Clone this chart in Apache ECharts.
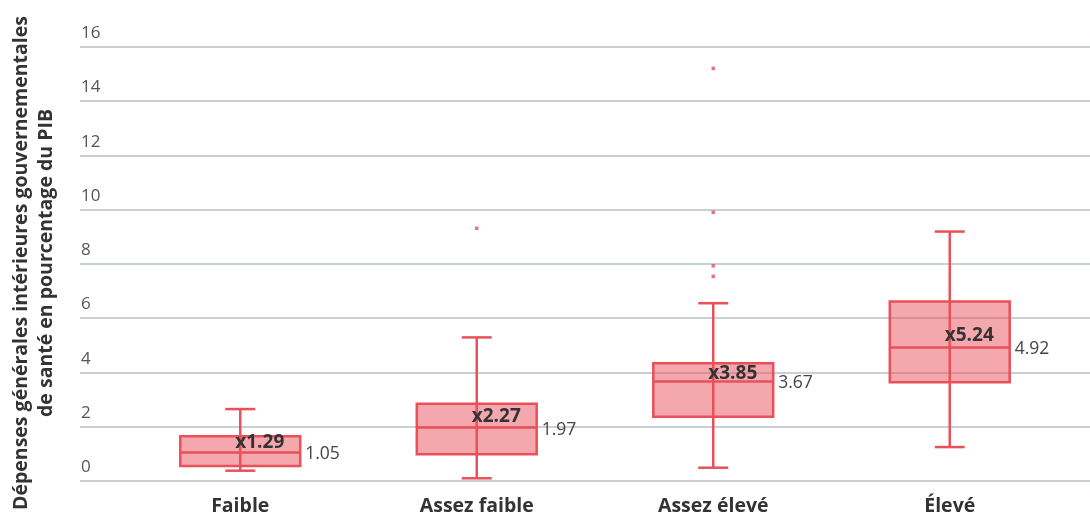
<!DOCTYPE html>
<html>
<head>
<meta charset="utf-8">
<script src="https://cdn.jsdelivr.net/npm/echarts@6/dist/echarts.min.js"></script>
<style>html,body{margin:0;padding:0;background:#fff}#c{width:1090px;height:516px}</style>
</head>
<body>
<div id="c"></div>
<script>
var categories = ['Faible', 'Assez faible', 'Assez élevé', 'Élevé'];
var whiskerLow = [0.38, 0.10, 0.49, 1.25];
var q1 = [0.55, 0.99, 2.37, 3.64];
var medians = [1.05, 1.97, 3.67, 4.92];
var q3 = [1.65, 2.85, 4.34, 6.61];
var whiskerHigh = [2.65, 5.29, 6.55, 9.19];
var means = [1.29, 2.27, 3.85, 5.24];
var outliers = [[1, 9.31], [2, 15.2], [2, 9.9], [2, 7.93], [2, 7.54]];
var yTicks = [0, 2, 4, 6, 8, 10, 12, 14, 16];

var RED = '#e9505a';
var FONT = '"Open Sans", "Noto Sans", sans-serif';

var boxData = categories.map(function (c, i) {
  return [i, whiskerLow[i], q1[i], medians[i], q3[i], whiskerHigh[i], means[i]];
});

function renderBox(params, api) {
  var i = api.value(0);
  var band = api.size([1, 0])[0];
  var bw = band * 0.507;
  var cap = 30;
  var pLow = api.coord([i, api.value(1)]);
  var pQ1 = api.coord([i, api.value(2)]);
  var pMed = api.coord([i, api.value(3)]);
  var pQ3 = api.coord([i, api.value(4)]);
  var pHigh = api.coord([i, api.value(5)]);
  var pMean = api.coord([i, api.value(6)]);
  var cx = pMed[0];
  var lw = 2.5;
  var lineStyle = { stroke: RED, lineWidth: lw };
  return {
    type: 'group',
    children: [
      { type: 'line', shape: { x1: cx, y1: pLow[1], x2: cx, y2: pHigh[1] }, style: lineStyle },
      { type: 'line', shape: { x1: cx - cap / 2, y1: pLow[1], x2: cx + cap / 2, y2: pLow[1] }, style: lineStyle },
      { type: 'line', shape: { x1: cx - cap / 2, y1: pHigh[1], x2: cx + cap / 2, y2: pHigh[1] }, style: lineStyle },
      { type: 'rect', shape: { x: cx - bw / 2, y: pQ3[1], width: bw, height: pQ1[1] - pQ3[1] },
        style: { fill: 'rgba(233,80,90,0.5)', stroke: RED, lineWidth: lw } },
      { type: 'line', shape: { x1: cx - bw / 2, y1: pMed[1], x2: cx + bw / 2, y2: pMed[1] }, style: lineStyle },
      { type: 'text', x: cx - 5, y: pMean[1] - 3,
        style: { text: 'x' + api.value(6).toFixed(2), fill: '#333', font: 'bold 19px ' + FONT,
                 align: 'left', verticalAlign: 'middle' } },
      { type: 'text', x: cx + bw / 2 + 5, y: pMed[1] + 2,
        style: { text: api.value(3).toFixed(2), fill: '#444', font: '17.5px ' + FONT,
                 align: 'left', verticalAlign: 'middle' } }
    ]
  };
}

var chart = echarts.init(document.getElementById('c'));
chart.setOption({
  animation: false,
  backgroundColor: '#fff',
  textStyle: { fontFamily: FONT },
  grid: [
    { left: 80, right: 0, top: 46.7, bottom: 35 },
    { left: 122, right: 22, top: 46.7, bottom: 35 }
  ],
  xAxis: [
    { gridIndex: 0, type: 'value', show: false, min: 0, max: 1 },
    { gridIndex: 1, type: 'category', data: categories,
      axisLine: { show: false }, axisTick: { show: false },
      axisLabel: { margin: 15, color: '#333', fontSize: 19.5, fontWeight: 'bold', fontFamily: FONT } }
  ],
  yAxis: [
    { gridIndex: 0, type: 'value', min: yTicks[0], max: yTicks[yTicks.length - 1], interval: 2,
      axisLine: { show: false }, axisTick: { show: false },
      splitLine: { show: true, lineStyle: { color: '#c8cfd6', width: 2 } },
      axisLabel: { inside: true, margin: 1, verticalAlign: 'bottom', padding: [0, 0, 5, 0],
                   color: '#555', fontSize: 17, fontFamily: FONT } },
    { gridIndex: 1, type: 'value', min: yTicks[0], max: yTicks[yTicks.length - 1], show: false,
      splitLine: { show: false } }
  ],
  graphic: [
    { type: 'text', x: 34, y: 263, rotation: Math.PI / 2,
      style: { text: 'Dépenses générales intérieures gouvernementales\nde santé en pourcentage du PIB',
               fill: '#333', font: 'bold 19.5px ' + FONT, align: 'center', verticalAlign: 'middle',
               lineHeight: 25 } }
  ],
  series: [
    { type: 'custom', xAxisIndex: 1, yAxisIndex: 1, renderItem: renderBox,
      encode: { x: 0, y: [1, 2, 3, 4, 5] }, data: boxData, z: 2 },
    { type: 'scatter', xAxisIndex: 1, yAxisIndex: 1, data: outliers,
      symbol: 'rect', symbolSize: 3.5, itemStyle: { color: RED }, z: 3 }
  ]
});
</script>
</body>
</html>
